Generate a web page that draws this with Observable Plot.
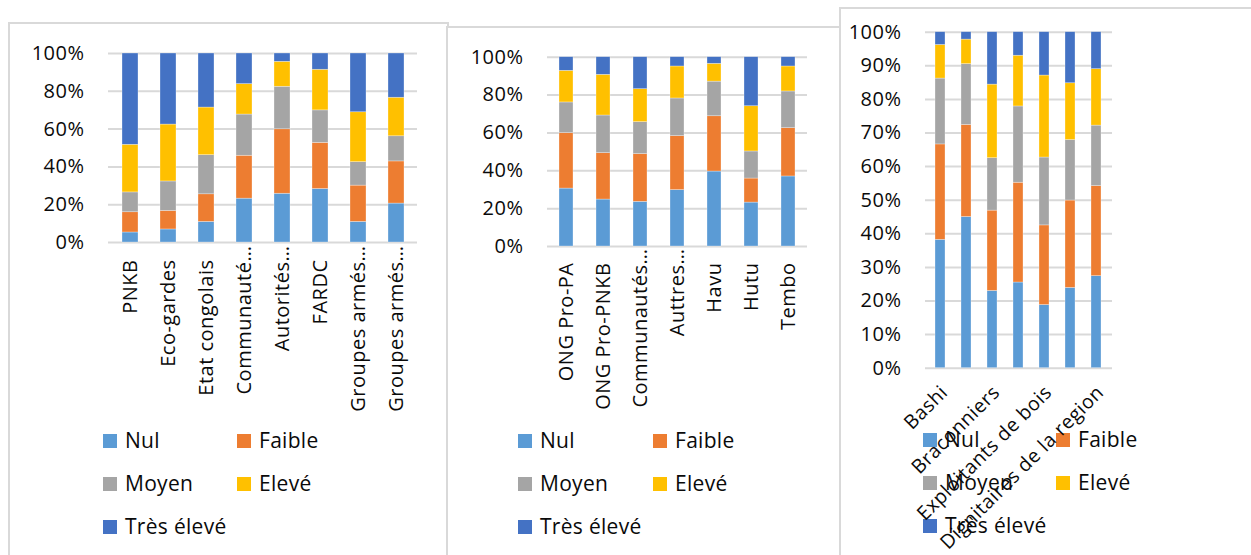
<!DOCTYPE html>
<html><head><meta charset="utf-8">
<script src="https://cdn.jsdelivr.net/npm/d3@7"></script>
<script src="https://cdn.jsdelivr.net/npm/@observablehq/plot@0.6"></script>
<style>
html,body{margin:0;padding:0;background:#fff;}
#root{position:relative;width:1251px;height:555px;overflow:hidden;font-family:"Open Sans",sans-serif;background:#fff;}
.panel{position:absolute;border:2.5px solid #d9d9d9;background:#fff;box-sizing:border-box;}
.chart{position:absolute;top:0;overflow:visible;}
.lg{position:absolute;font-size:21px;color:#0a0a0a;line-height:1;white-space:nowrap;letter-spacing:0.3px;}
.sw{position:absolute;width:14px;height:14px;}
</style></head><body><div id="root"></div>
<script>
const levels = ["Nul","Faible","Moyen","Elevé","Très élevé"];
const levelColors = ["#5B9BD5","#ED7D31","#A5A5A5","#FFC000","#4472C4"];

// Chart 1
const labels1 = ["PNKB","Eco-gardes","Etat congolais","Communauté…","Autorités…","FARDC","Groupes armés…","Groupes armés…"];
const nul1    = [5.3, 6.9, 10.9, 23.2, 25.8, 28.3, 10.9, 20.6];
const faible1 = [10.7, 9.8, 14.6, 22.7, 34.1, 24.4, 19.2, 22.3];
const moyen1  = [10.5, 15.6, 20.7, 21.8, 22.5, 17.2, 12.4, 13.3];
const eleve1  = [25.2, 30.1, 25.2, 16.1, 13.2, 21.5, 26.4, 20.4];
const tres1   = [48.3, 37.6, 28.6, 16.2, 4.4, 8.6, 31.1, 23.4];
const yTicks1 = [0, 20, 40, 60, 80, 100];

// Chart 2
const labels2 = ["ONG Pro-PA","ONG Pro-PNKB","Communautés…","Auttres…","Havu","Hutu","Tembo"];
const nul2    = [30.6, 24.8, 23.6, 29.8, 39.6, 23.2, 37.0];
const faible2 = [29.3, 24.5, 25.2, 28.5, 29.2, 12.7, 25.5];
const moyen2  = [16.2, 19.9, 16.9, 19.9, 18.3, 14.3, 19.4];
const eleve2  = [16.7, 21.5, 17.4, 16.9, 9.4, 23.9, 13.2];
const tres2   = [7.2, 9.3, 16.9, 4.9, 3.5, 25.9, 4.9];
const yTicks2 = [0, 20, 40, 60, 80, 100];

// Chart 3 (only every other category label is shown)
const labels3 = ["Bashi","","Braconniers","","Exploitants de bois","","Dignitaires de la region"];
const nul3    = [38.2, 45.0, 23.0, 25.5, 18.8, 23.9, 27.4];
const faible3 = [28.4, 27.4, 23.9, 29.7, 23.7, 26.0, 26.8];
const moyen3  = [19.6, 18.1, 15.6, 22.7, 20.2, 18.0, 18.0];
const eleve3  = [10.0, 7.3, 21.9, 15.1, 24.4, 16.9, 16.8];
const tres3   = [3.8, 2.2, 15.6, 7.0, 12.9, 15.2, 11.0];
const yTicks3 = [0, 10, 20, 30, 40, 50, 60, 70, 80, 90, 100];

const root = document.getElementById("root");
const FONT = '"Open Sans", sans-serif';

function panel(l, t, w, h) {
  const d = document.createElement("div");
  d.className = "panel";
  Object.assign(d.style, {left: l + "px", top: t + "px", width: w + "px", height: h + "px"});
  root.appendChild(d);
}

function drawChart(c) {
  const idx = d3.range(c.labels.length);
  const rows = [];
  idx.forEach(i => levels.forEach((lv, j) => rows.push({i, level: lv, v: c.series[j][i]})));
  const truncated = idx.filter(i => c.labels[i].endsWith("…"));
  const plain = idx.filter(i => !c.labels[i].endsWith("…"));
  const labelOpts = (dy) => ({x: d => d, text: d => c.labels[d], frameAnchor: "bottom", rotate: c.rotate,
    textAnchor: "end", lineAnchor: "middle", dx: c.dx, dy, fontSize: c.labelSize, fill: "#0a0a0a"});
  const svg = Plot.plot({
    width: c.width, height: 555,
    marginLeft: c.plotLeft - c.left, marginRight: c.left + c.width - c.plotRight,
    marginTop: c.top, marginBottom: 555 - c.bottom,
    style: {fontFamily: FONT, fontSize: "20px", color: "#0a0a0a", background: "transparent", overflow: "visible", letterSpacing: "0.5px"},
    x: {type: "band", domain: idx, paddingInner: c.pad, paddingOuter: c.pad / 2, axis: null},
    y: {domain: [0, 100], axis: null},
    color: {domain: levels, range: levelColors},
    marks: [
      Plot.gridY(c.ticks, {stroke: "#d9d9d9", strokeOpacity: 1, strokeWidth: 2}),
      Plot.axisY(c.ticks, {label: null, tickSize: 0, tickPadding: 24, tickFormat: d => d + "%", fontSize: 20, fill: "#0a0a0a"}),
      Plot.barY(rows, Plot.stackY({x: "i", y: "v", fill: "level", stroke: "#fff", strokeWidth: 0.6, strokeOpacity: 0.5})),
      Plot.text(plain, labelOpts(c.dy)),
      Plot.text(truncated, labelOpts(c.dy - 14))
    ]
  });
  svg.classList.add("chart");
  svg.style.left = c.left + "px";
  root.appendChild(svg);
}

function legend(x1, x2, rowsY) {
  const pos = [[x1, rowsY[0]], [x2, rowsY[0]], [x1, rowsY[1]], [x2, rowsY[1]], [x1, rowsY[2]]];
  levels.forEach((lv, j) => {
    const [x, cy] = pos[j];
    const s = document.createElement("div");
    s.className = "sw";
    Object.assign(s.style, {left: x + "px", top: (cy - 7) + "px", background: levelColors[j]});
    root.appendChild(s);
    const t = document.createElement("div");
    t.className = "lg";
    t.textContent = lv;
    Object.assign(t.style, {left: (x + 22) + "px", top: (cy - 11) + "px"});
    root.appendChild(t);
  });
}

panel(8, 22, 441, 560);
panel(446, 26, 396, 560);
panel(839, 7, 420, 560);

drawChart({labels: labels1, series: [nul1, faible1, moyen1, eleve1, tres1], ticks: yTicks1,
  left: 10, width: 437, plotLeft: 108, plotRight: 417, top: 53, bottom: 242, pad: 0.585,
  rotate: -90, dx: 0, dy: 17, labelSize: 20});
drawChart({labels: labels2, series: [nul2, faible2, moyen2, eleve2, tres2], ticks: yTicks2,
  left: 448, width: 392, plotLeft: 547, plotRight: 807, top: 56.7, bottom: 246, pad: 0.61,
  rotate: -90, dx: 0, dy: 16, labelSize: 20});
legend(103, 237, [440.5, 484, 526.5]);
legend(518, 653, [440.5, 484, 526.5]);
legend(923, 1056, [439.5, 483, 526]);
drawChart({labels: labels3, series: [nul3, faible3, moyen3, eleve3, tres3], ticks: yTicks3,
  left: 841, width: 410, plotLeft: 925, plotRight: 1112, top: 31.7, bottom: 367.7, pad: 0.61,
  rotate: -45, dx: 4, dy: 21, labelSize: 19.5});
</script>
</body></html>
